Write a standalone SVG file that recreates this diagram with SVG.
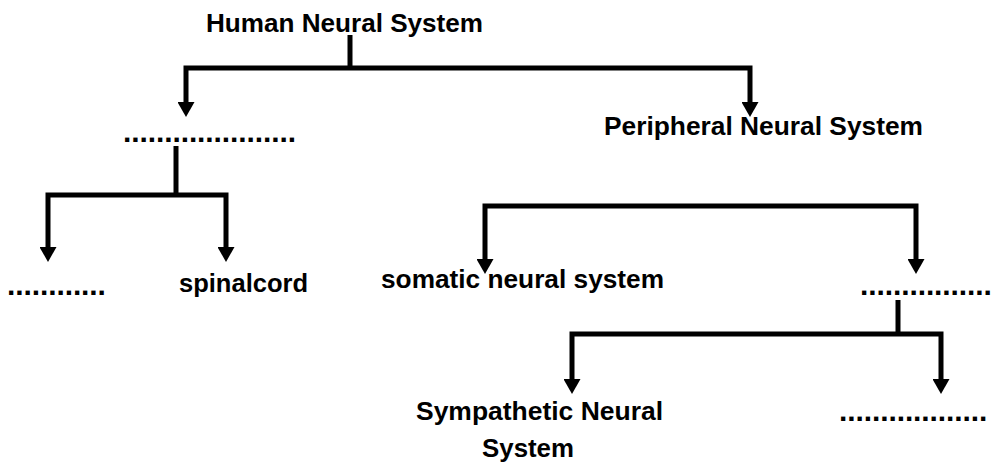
<svg xmlns="http://www.w3.org/2000/svg" width="997" height="464" viewBox="0 0 997 464">
  <style>
    .t { font-family: "Liberation Sans", Arial, sans-serif; font-weight: bold; font-size: 25px; fill: #000; }
    .d { font-family: "Liberation Sans", Arial, sans-serif; font-weight: bold; font-size: 30px; fill: #000; letter-spacing: -0.1px; }
    .c { fill: none; stroke: #000; stroke-width: 5; stroke-linejoin: miter; }
  </style>
  <defs>
    <marker id="ah" viewBox="0 0 15 17" markerUnits="userSpaceOnUse" markerWidth="15" markerHeight="17" refX="2" refY="8.5" orient="auto">
      <path d="M0,0 L15,8.5 L0,17 Z" fill="#000"/>
    </marker>
  </defs>
  <rect width="997" height="464" fill="#fff"/>

  <g id="connectors">
    <path class="c" d="M350,35 V68"/>
    <path class="c" d="M350,68 H186 V104" marker-end="url(#ah)"/>
    <path class="c" d="M350,68 H750 V104" marker-end="url(#ah)"/>

    <path class="c" d="M176,146 V195"/>
    <path class="c" d="M176,195 H48 V249" marker-end="url(#ah)"/>
    <path class="c" d="M176,195 H226 V249" marker-end="url(#ah)"/>

    <path class="c" d="M700,206 H485 V261" marker-end="url(#ah)"/>
    <path class="c" d="M700,206 H916 V261" marker-end="url(#ah)"/>

    <path class="c" d="M898,300 V334"/>
    <path class="c" d="M898,334 H572 V381" marker-end="url(#ah)"/>
    <path class="c" d="M898,334 H941 V381" marker-end="url(#ah)"/>
  </g>

  <g id="human-neural-system">
    <text class="t" x="206" y="32" textLength="277" lengthAdjust="spacingAndGlyphs">Human Neural System</text>
  </g>
  <g id="central-blank">
    <text class="d" x="123" y="142">.....................</text>
  </g>
  <g id="peripheral-neural-system">
    <text class="t" x="604" y="135" textLength="319" lengthAdjust="spacingAndGlyphs">Peripheral Neural System</text>
  </g>
  <g id="brain-blank">
    <text class="d" x="7" y="295">............</text>
  </g>
  <g id="spinalcord">
    <text class="t" x="179" y="292" textLength="129" lengthAdjust="spacingAndGlyphs">spinalcord</text>
  </g>
  <g id="somatic-neural-system">
    <text class="t" x="381" y="288" textLength="283" lengthAdjust="spacingAndGlyphs">somatic neural system</text>
  </g>
  <g id="autonomic-blank">
    <text class="d" x="860" y="295">................</text>
  </g>
  <g id="sympathetic-neural-system">
    <text class="t" x="416" y="420" textLength="247" lengthAdjust="spacingAndGlyphs">Sympathetic Neural</text>
    <text class="t" x="482" y="457" textLength="92" lengthAdjust="spacingAndGlyphs">System</text>
  </g>
  <g id="parasympathetic-blank">
    <text class="d" x="839" y="421">..................</text>
  </g>
</svg>
